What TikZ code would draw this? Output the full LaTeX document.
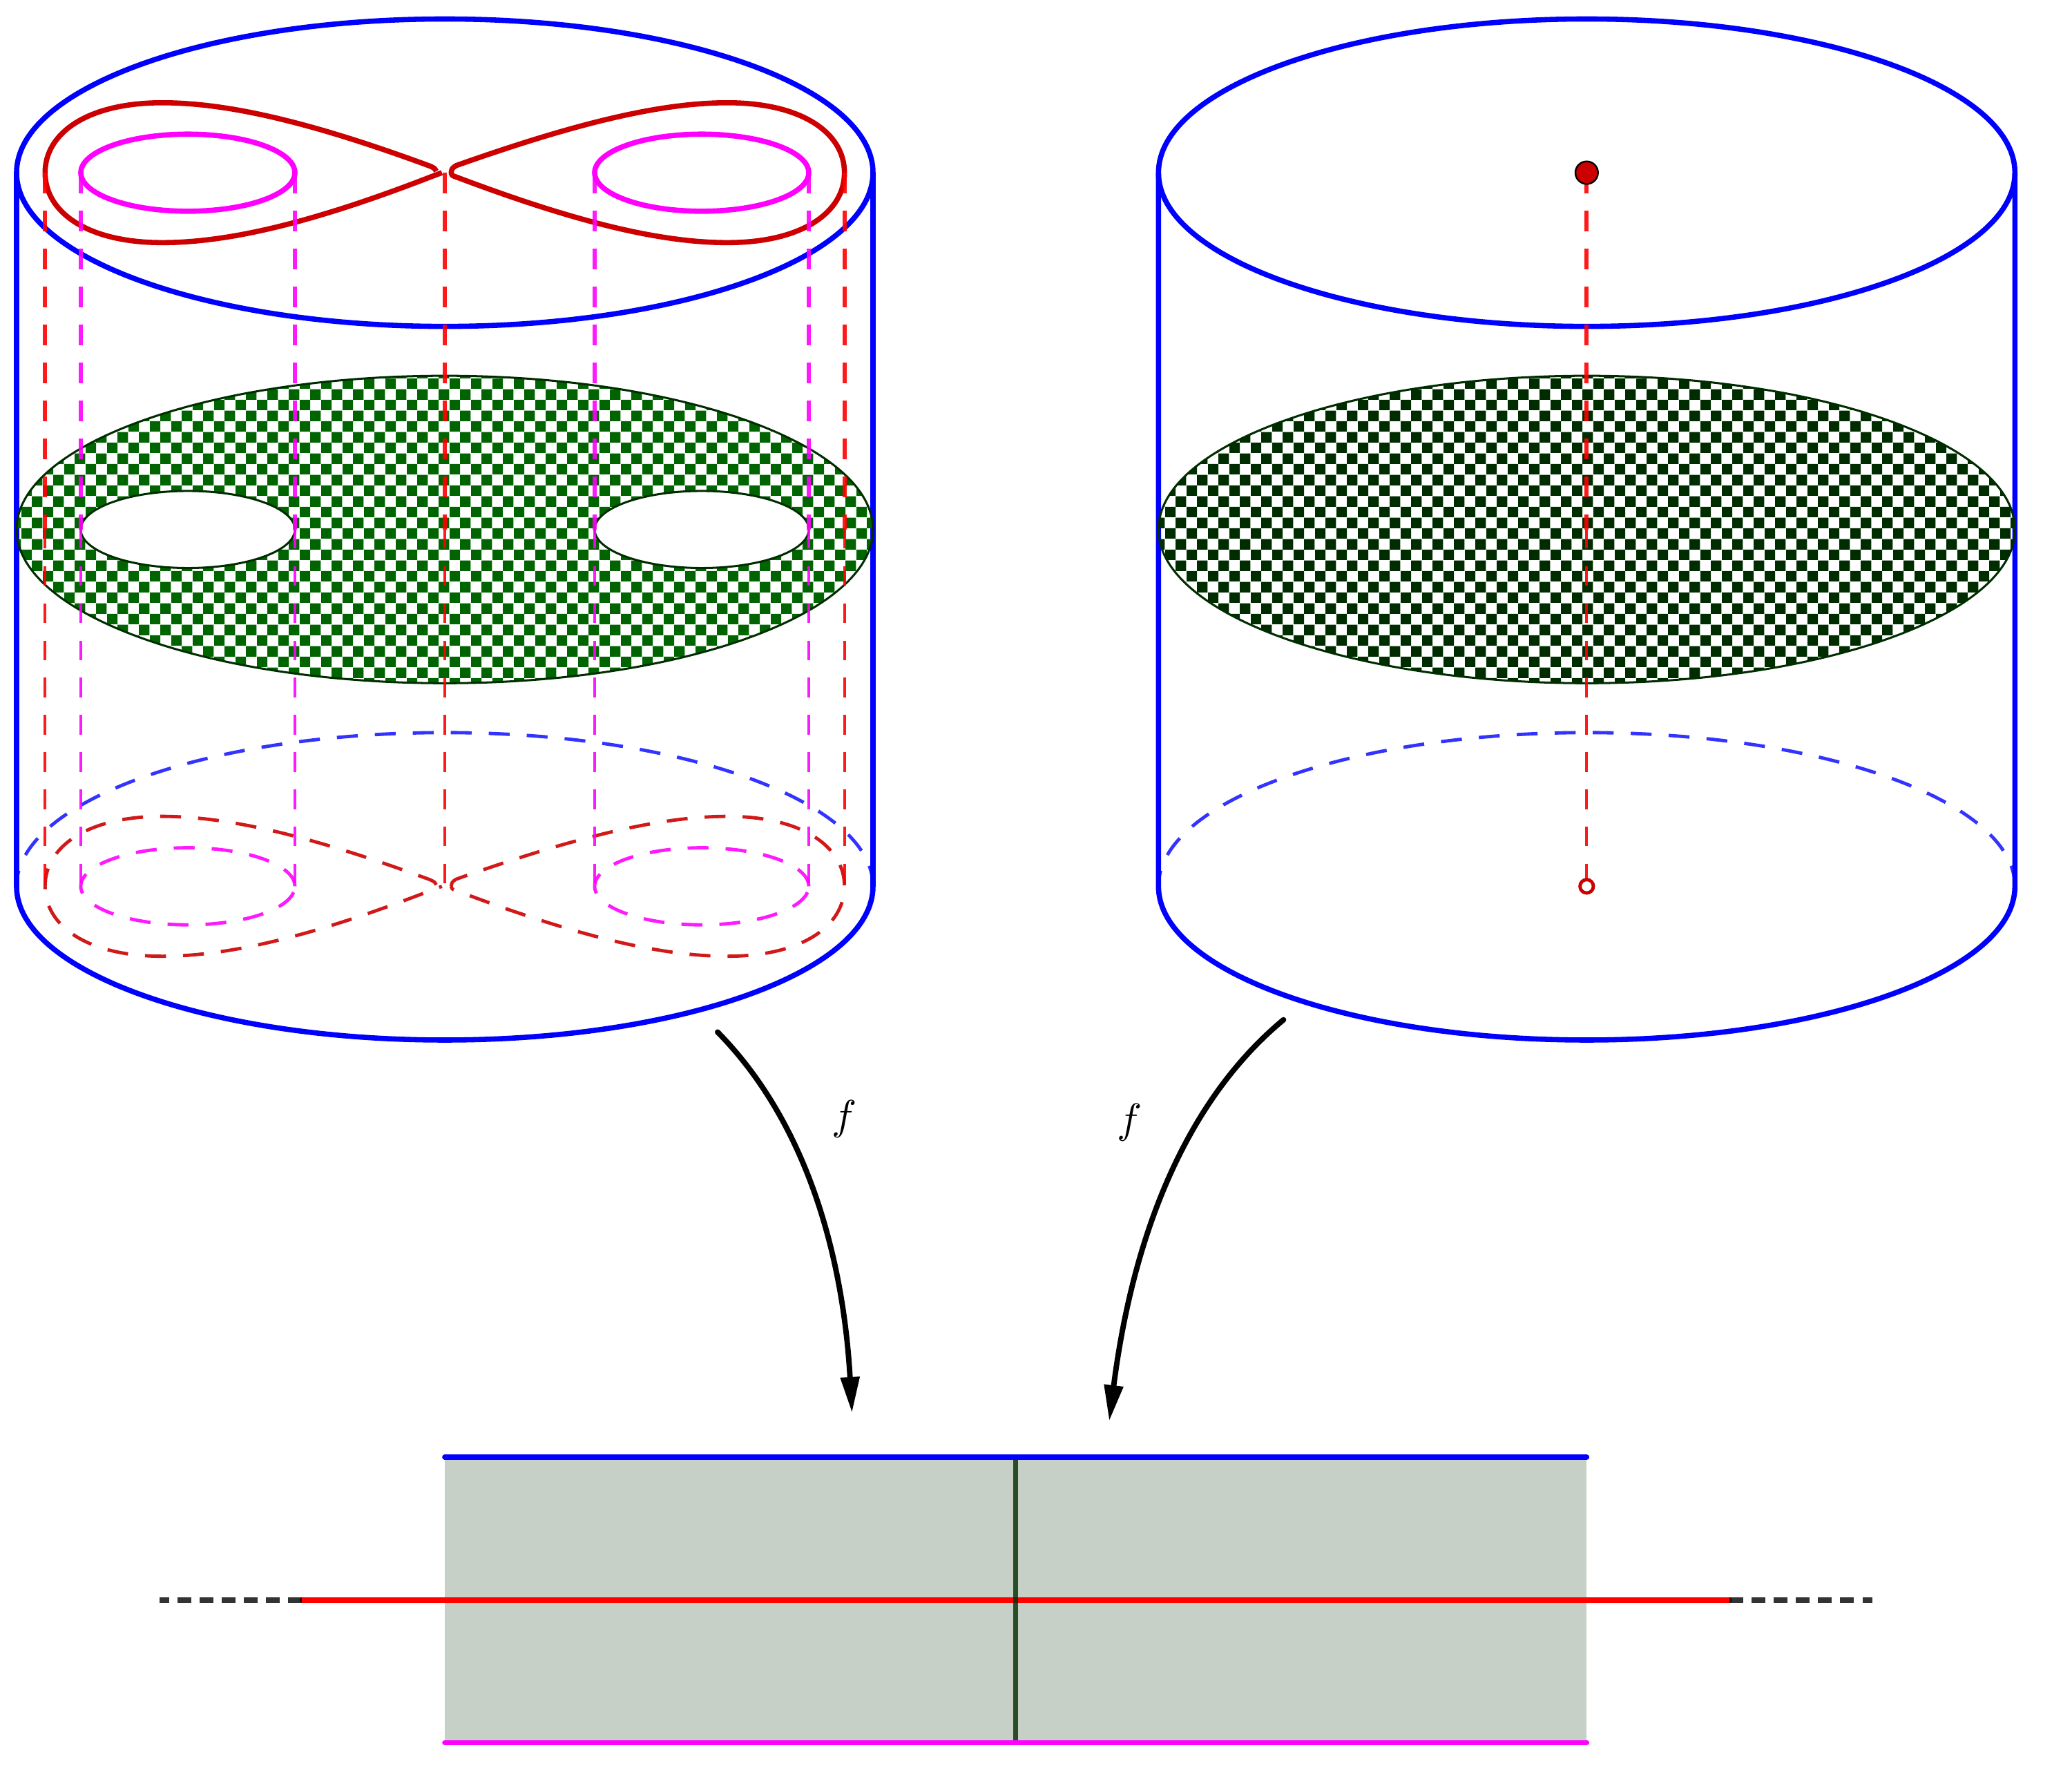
\documentclass[tikz,border=0pt]{standalone}
\usepackage{tikz}
\usetikzlibrary{arrows.meta, patterns}
\definecolor{cylblue}{RGB}{0,0,255}
\definecolor{curvered}{RGB}{204,0,0}
\definecolor{holepink}{RGB}{255,0,255}
\definecolor{checkgreen}{RGB}{0,100,0}
\definecolor{checkdark}{RGB}{0,45,0}
\pgfdeclarepatternformonly{checks}{\pgfpointorigin}{\pgfqpoint{5.067pt}{5.067pt}}{\pgfqpoint{5.067pt}{5.067pt}}{
  \pgfpathrectangle{\pgfpointorigin}{\pgfqpoint{2.5335pt}{2.5335pt}}
  \pgfpathrectangle{\pgfqpoint{2.5335pt}{2.5335pt}}{\pgfqpoint{2.5335pt}{2.5335pt}}
  \pgfusepath{fill}}
\tikzstyle{rim} = [line width=1.25pt, draw=cylblue]
\tikzstyle{rimback} = [thick, draw=cylblue, opacity=0.8, dash pattern=on 5pt off 4.09pt]
\tikzstyle{eightline} = [line width=1.25pt, draw=curvered, line join=round]
\tikzstyle{eightback} = [thick, draw=curvered, opacity=0.9, line join=round, dash pattern=on 5pt off 4.09pt]
\tikzstyle{holeline} = [line width=1.25pt, draw=holepink]
\tikzstyle{holeback} = [thick, draw=holepink, opacity=0.9, dash pattern=on 5pt off 4.09pt]
\tikzstyle{dropupper} = [line width=1pt, opacity=0.9, dash pattern=on 5pt off 4.09pt]
\tikzstyle{droplower} = [line width=.7pt, opacity=0.9, dash pattern=on 4.7pt off 4.2pt]
\tikzstyle{slice} = [draw=checkdark, line width=.5pt]
\tikzstyle{mapsto} = [line width=1.3pt, line cap=round, -{Triangle[length=8.6pt,width=4.35pt]}]
\tikzstyle{stripline} = [line width=1.25pt, line cap=round]
\tikzstyle{tailline} = [line width=1.25pt, draw=black, opacity=0.8, dash pattern=on 3.3pt off 2pt]
\newcommand{\eightcurve}{
  (-.06,.01) .. controls (-.07,.03) .. (-.1,.045) .. controls (-.9,.34) and (-1.5,.49) .. (-1.98,.49)
  .. controls (-2.5,.49) and (-2.8,.28) .. (-2.8,0) .. controls (-2.8,-.28) and (-2.5,-.49) .. (-1.98,-.49)
  .. controls (-1.5,-.49) and (-.9,-.34) .. (-.1,-.03) -- (-.02,0)
  (.045,0) .. controls (.05,.03) .. (.08,.05) .. controls (.9,.34) and (1.5,.49) .. (1.98,.49)
  .. controls (2.5,.49) and (2.8,.28) .. (2.8,0) .. controls (2.8,-.28) and (2.5,-.49) .. (1.98,-.49)
  .. controls (1.5,-.49) and (.9,-.34) .. (.08,-.03) .. controls (.05,-.02) .. cycle}
\begin{document}
\begin{tikzpicture}[x=1.2cm, y=1.2cm]
\useasboundingbox (-3.116,-6.331) rectangle (11.4,6.21);

% left cylinder
\draw[rim] (0,5) ellipse [x radius=3, y radius=1.077];
\draw[rim] (-3,5) -- (-3,0) arc [start angle=180, end angle=360, x radius=3, y radius=1.077] -- (3,5);
\draw[rimback] (3,0) arc [start angle=0, end angle=180, x radius=3, y radius=1.077];
\draw[eightline, shift={(0,5)}] \eightcurve;
\draw[eightback] \eightcurve;
\foreach \cx in {-1.8,1.8} {
  \draw[holeline] (\cx,5) ellipse [x radius=.75, y radius=.27];
  \draw[holeback] (\cx,0) ellipse [x radius=.75, y radius=.27];
}

% right cylinder
\draw[rim] (8,5) ellipse [x radius=3, y radius=1.077];
\draw[rim] (5,5) -- (5,0) arc [start angle=180, end angle=360, x radius=3, y radius=1.077] -- (11,5);
\draw[rimback] (11,0) arc [start angle=0, end angle=180, x radius=3, y radius=1.077];

% middle slices
\path[slice, pattern=checks, pattern color=checkgreen, even odd rule] (0,2.5) ellipse [x radius=3, y radius=1.077]
  (-1.8,2.5) ellipse [x radius=.75, y radius=.27] (1.8,2.5) ellipse [x radius=.75, y radius=.27];
\path[slice, pattern=checks, pattern color=checkdark] (8,2.5) ellipse [x radius=3, y radius=1.077];

% dropped lines
\foreach \px in {-2.8,0,2.8,8} {
  \draw[dropupper, draw=red] (\px,5) -- (\px,2.5);
  \draw[droplower, draw=red] (\px,.02) -- (\px,2.5);
}
\foreach \px in {-2.55,-1.05,1.05,2.55} {
  \draw[dropupper, draw=holepink] (\px,5) -- (\px,2.5);
  \draw[droplower, draw=holepink] (\px,.02) -- (\px,2.5);
}
\fill[curvered, draw=black] (8,5) circle (2.7pt);
\draw[thick, draw=curvered, fill=white] (8,0) circle (1.6pt);

% strip
\fill[checkdark, opacity=0.224] (0,-4) rectangle (8,-6);
\draw[stripline, draw=red] (-1,-5) -- (9,-5);
\draw[tailline] (-1,-5) -- (-2,-5);
\draw[tailline] (9,-5) -- (10,-5);
\draw[line width=1.1pt, draw=checkdark, opacity=0.8] (4,-4) -- (4,-6);
\draw[stripline, draw=cylblue] (0,-4) -- (8,-4);
\draw[stripline, draw=holepink] (0,-6) -- (8,-6);

% maps
\coordinate (leftfrom) at (1.911,-1.021);
\coordinate (leftto) at (2.853,-3.69);
\coordinate (rightfrom) at (5.876,-.935);
\coordinate (rightto) at (4.655,-3.747);
\draw[mapsto] (leftfrom) .. controls (2.6,-1.72) and (2.8,-2.74) .. (leftto);
\draw[mapsto] (rightfrom) .. controls (5.05,-1.62) and (4.78,-2.76) .. (rightto);
\node (leftf) at (2.8,-1.63) {$f$};
\node (rightf) at (4.8,-1.655) {$f$};
\end{tikzpicture}
\end{document}
